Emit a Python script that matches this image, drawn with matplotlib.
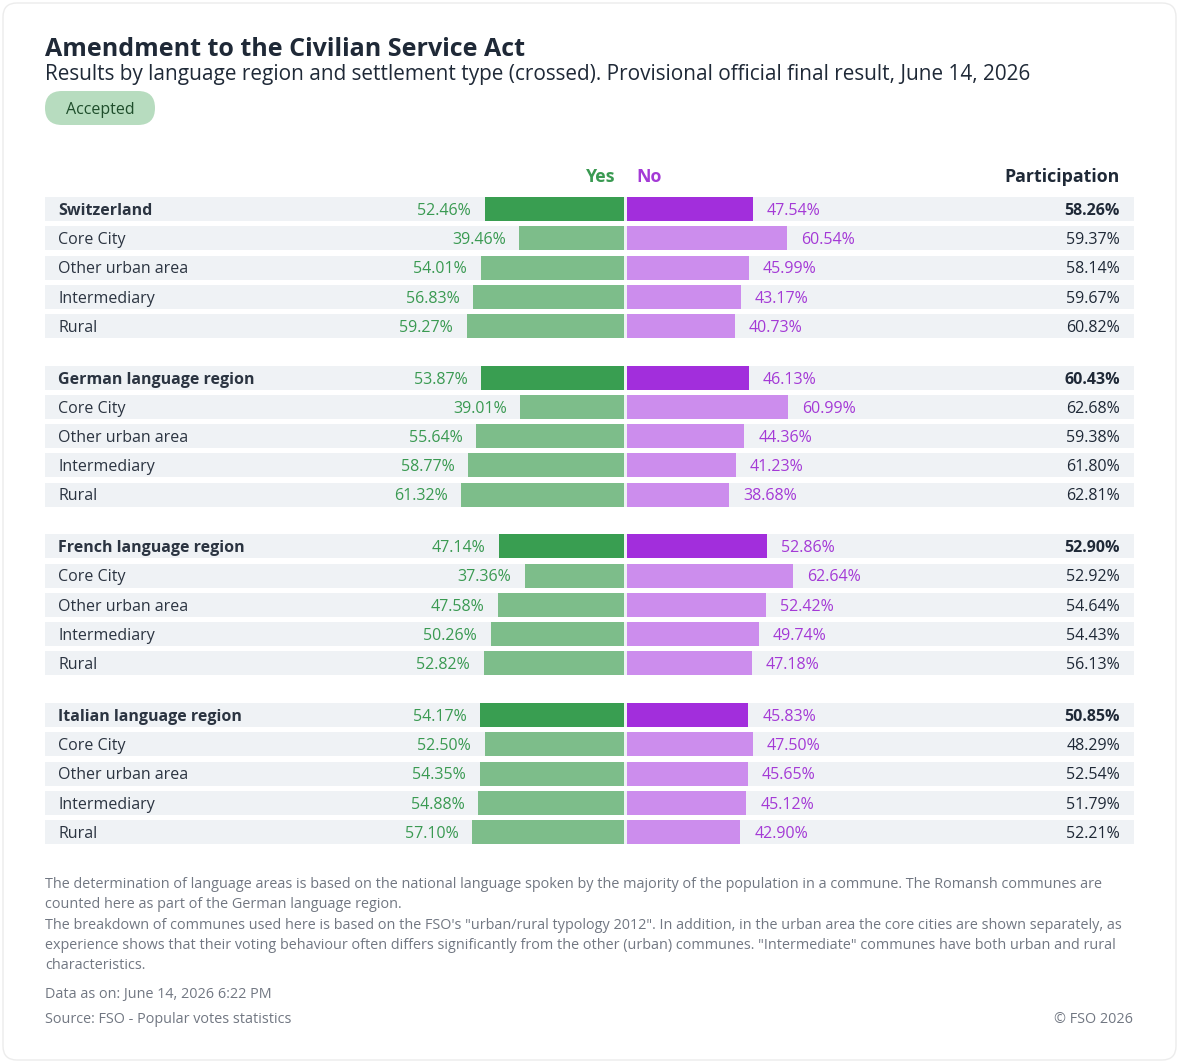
import matplotlib
matplotlib.use("Agg")
import matplotlib.pyplot as plt
from matplotlib.patches import FancyBboxPatch, Rectangle

plt.rcParams['font.family'] = ['Open Sans', 'Noto Sans', 'DejaVu Sans']

# ---------------- data ----------------
groups = ["Switzerland", "German language region", "French language region", "Italian language region"]
subcats = ["Core City", "Other urban area", "Intermediary", "Rural"]

yes_ch = [52.46, 39.46, 54.01, 56.83, 59.27]
yes_de = [53.87, 39.01, 55.64, 58.77, 61.32]
yes_fr = [47.14, 37.36, 47.58, 50.26, 52.82]
yes_it = [54.17, 52.50, 54.35, 54.88, 57.10]

no_ch = [47.54, 60.54, 45.99, 43.17, 40.73]
no_de = [46.13, 60.99, 44.36, 41.23, 38.68]
no_fr = [52.86, 62.64, 52.42, 49.74, 47.18]
no_it = [45.83, 47.50, 45.65, 45.12, 42.90]

part_ch = [58.26, 59.37, 58.14, 59.67, 60.82]
part_de = [60.43, 62.68, 59.38, 61.80, 62.81]
part_fr = [52.90, 52.92, 54.64, 54.43, 56.13]
part_it = [50.85, 48.29, 52.54, 51.79, 52.21]

yes_all = [yes_ch, yes_de, yes_fr, yes_it]
no_all = [no_ch, no_de, no_fr, no_it]
part_all = [part_ch, part_de, part_fr, part_it]

title = "Amendment to the Civilian Service Act"
subtitle = ("Results by language region and settlement type (crossed). "
            "Provisional official final result, June 14, 2026")
status = "Accepted"
footnotes = [
    "The determination of language areas is based on the national language spoken by the majority of the population in a commune. The Romansh communes are",
    "counted here as part of the German language region.",
    "The breakdown of communes used here is based on the FSO's \"urban/rural typology 2012\". In addition, in the urban area the core cities are shown separately, as",
    "experience shows that their voting behaviour often differs significantly from the other (urban) communes. \"Intermediate\" communes have both urban and rural",
    "characteristics.",
]
data_as_on = "Data as on: June 14, 2026 6:22 PM"
source = "Source: FSO - Popular votes statistics"
copyright_txt = "© FSO 2026"

# ---------------- style ----------------
W, H = 1179, 1063
C_YES_D, C_YES_L = "#399e51", "#7dbd8a"
C_NO_D, C_NO_L = "#a22edc", "#cc8ded"
C_YES_T, C_NO_T = "#3a9a52", "#a43ad6"
C_BAND = "#eff2f5"
C_DARK = "#1f2937"
C_LABEL = "#2b3441"
C_GREY = "#717782"
DY = 1.8  # text baseline nudge (px)

fig = plt.figure(figsize=(W / 100, H / 100), dpi=100)
fig.patch.set_facecolor("white")

# pixel-coordinate overlay axes
ax = fig.add_axes([0, 0, 1, 1])
ax.set_xlim(0, W)
ax.set_ylim(H, 0)
ax.axis("off")

# bar axes: x in percent, y in pixels
CENTER = 625.3
SCALE = 2.65  # px per percent
GAP = 1.5 / SCALE  # half gap between yes and no bars, in percent units
axb = fig.add_axes([0, 0, 1, 1])
axb.set_xlim(-CENTER / SCALE, (W - CENTER) / SCALE)
axb.set_ylim(H, 0)
axb.axis("off")
axb.patch.set_alpha(0)

# card border
ax.add_patch(FancyBboxPatch((3, 3), W - 6, H - 6, boxstyle="round,pad=0,rounding_size=14",
                            facecolor="white", edgecolor="#ececec", linewidth=1.0, zorder=0))

FS_LBL = 11.5
# header texts
ax.text(45, 48 + DY, title, fontsize=18.0, fontweight="bold", color=C_DARK, va="center", ha="left")
ax.text(45, 73 + DY, subtitle, fontsize=14.95, color=C_DARK, va="center", ha="left")
ax.add_patch(FancyBboxPatch((45, 91), 110, 34, boxstyle="round,pad=0,rounding_size=17",
                            facecolor="#b7dcbf", edgecolor="none"))
ax.text(100, 108 + DY, status, fontsize=11.5, color="#1e4d2b", va="center", ha="center")

ax.text(615, 175 + DY, "Yes", fontsize=12.8, fontweight="bold", color=C_YES_T, va="center", ha="right")
ax.text(636, 175 + DY, "No", fontsize=12.8, fontweight="bold", color=C_NO_T, va="center", ha="left")
ax.text(1120, 175 + DY, "Participation", fontsize=12.8, fontweight="bold", color=C_DARK,
        va="center", ha="right")

# rows
Y0, ROW, GSTRIDE, BAR_H = 209, 29.25, 168.7, 24
for g, gname in enumerate(groups):
    names = [gname] + subcats
    for i in range(5):
        y = Y0 + g * GSTRIDE + i * ROW
        head = i == 0
        ax.add_patch(Rectangle((45, y - BAR_H / 2), 1089, BAR_H, facecolor=C_BAND,
                               edgecolor="none", zorder=1))
        yv, nv, pv = yes_all[g][i], no_all[g][i], part_all[g][i]
        axb.barh(y, -yv, left=-GAP, height=BAR_H, color=C_YES_D if head else C_YES_L, zorder=2)
        axb.barh(y, nv, left=GAP, height=BAR_H, color=C_NO_D if head else C_NO_L, zorder=2)
        fw = "bold" if head else "normal"
        ty = y + DY
        ax.text(58, ty, names[i], fontsize=FS_LBL, fontweight=fw, color=C_LABEL,
                va="center", ha="left", zorder=3)
        axb.annotate(f"{yv:.2f}%", (-yv - GAP, ty), xytext=(-9.8, 0), textcoords="offset points",
                     fontsize=FS_LBL, color=C_YES_T, va="center", ha="right", zorder=3)
        axb.annotate(f"{nv:.2f}%", (nv + GAP, ty), xytext=(10, 0), textcoords="offset points",
                     fontsize=FS_LBL, color=C_NO_T, va="center", ha="left", zorder=3)
        ax.text(1120, ty, f"{pv:.2f}%", fontsize=FS_LBL, fontweight=fw, color=C_DARK,
                va="center", ha="right", zorder=3)

# footnotes
FS_FT = 10.4
fy = 883
for line in footnotes:
    ax.text(45, fy + DY, line, fontsize=FS_FT, color=C_GREY, va="center", ha="left")
    fy += 20.2
ax.text(45, 993 + DY, data_as_on, fontsize=FS_FT, color=C_GREY, va="center", ha="left")
ax.text(45, 1018 + DY, source, fontsize=FS_FT, color=C_GREY, va="center", ha="left")
ax.text(1133, 1018 + DY, copyright_txt, fontsize=FS_FT, color=C_GREY, va="center", ha="right")

fig.savefig("out.png", dpi=100, facecolor="white")
